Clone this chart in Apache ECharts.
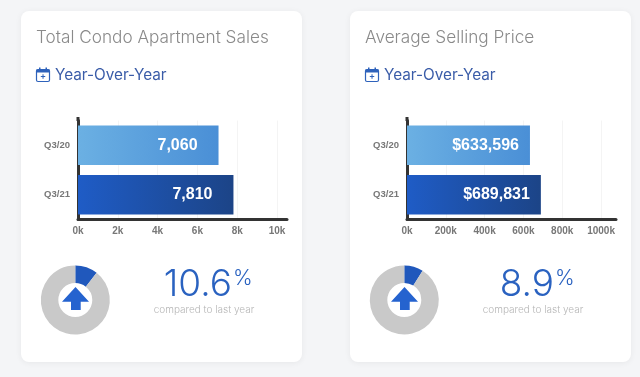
<!DOCTYPE html>
<html>
<head>
<meta charset="utf-8">
<title>Condo sales</title>
<script src="https://cdn.jsdelivr.net/npm/echarts@6/dist/echarts.min.js"></script>
<style>
	html, body { margin: 0; padding: 0; background: #f4f5f7; }
	#main { width: 640px; height: 377px; }
</style>
</head>
<body>
<div id="main"></div>
<script>
var quarters = ['Q3/20', 'Q3/21'];
var salesValues = [7060, 7810];
var priceValues = [633596, 689831];
var salesTicks = [0, 2000, 4000, 6000, 8000, 10000];
var priceTicks = [0, 200000, 400000, 600000, 800000, 1000000];
var changeValues = [10.6, 8.9];
var titles = ['Total Condo Apartment Sales', 'Average Selling Price'];

var uiFont = 'Inter, "Noto Sans", sans-serif';
var chartFont = '"Liberation Sans", Arial, sans-serif';
var blue = '#2a62c0';

function barColor(i) {
	var stops = i == 0 ? ['#6bb0e3', '#4a8fd6'] : ['#1f5cc6', '#1c4487'];
	return new echarts.graphic.LinearGradient(0, 0, 1, 0, [
		{ offset: 0, color: stops[0] },
		{ offset: 1, color: stops[1] }
	]);
}

function barData(values) {
	return values.map(function(v, i) {
		return { value: v, itemStyle: { color: barColor(i) } };
	});
}

function xAxisFor(index, max, ticks) {
	return {
		gridIndex: index,
		type: 'value',
		min: 0,
		max: max,
		interval: ticks[1],
		axisLine: { show: true, lineStyle: { color: '#333', width: 3 } },
		axisTick: { show: false },
		axisLabel: {
			color: '#777',
			fontFamily: chartFont,
			fontSize: 10,
			fontWeight: 'bold',
			margin: 7,
			showMaxLabel: false,
			showMinLabel: true,
			formatter: function(v) { return (v / 1000) + 'k'; }
		},
		splitLine: { show: true, showMaxLine: false, lineStyle: { color: '#f4f4f4', width: 1 } }
	};
}

function yAxisFor(index) {
	return {
		gridIndex: index,
		type: 'category',
		inverse: true,
		data: quarters,
		axisLine: { show: true, lineStyle: { color: '#333', width: 3 } },
		axisTick: { show: false },
		axisLabel: { color: '#777', fontFamily: chartFont, fontSize: 9.5, fontWeight: 'bold', margin: 8 }
	};
}

function barSeries(index, values, prefix, distance) {
	return {
		type: 'bar',
		xAxisIndex: index,
		yAxisIndex: index,
		barCategoryGap: '20%',
		silent: true,
		data: barData(values),
		label: {
			show: true,
			position: 'insideRight',
			distance: distance,
			color: '#fff',
			fontFamily: chartFont,
			fontWeight: 'bold',
			fontSize: 16,
			formatter: function(p) { return prefix + p.value.toLocaleString('en-US'); }
		}
	};
}

function pieSeries(cx, value) {
	return {
		type: 'pie',
		center: [cx, 300],
		radius: [17, 34.5],
		startAngle: 90,
		clockwise: true,
		silent: true,
		label: { show: false },
		labelLine: { show: false },
		data: [
			{ value: value, itemStyle: { color: '#2058bc' } },
			{ value: 100 - value, itemStyle: { color: '#c9c9c9' } }
		]
	};
}

// card, heading, calendar icon, arrow and percent text for one panel
function panel(x, title, change, changeX) {
	return [
		{
			type: 'rect', z: -10,
			shape: { x: x, y: 11, width: 281, height: 351, r: 8 },
			style: { fill: '#fff', shadowBlur: 6, shadowColor: 'rgba(0,0,0,0.06)', shadowOffsetY: 1 }
		},
		{
			type: 'text', x: x + 15, y: 38,
			style: { text: title, font: '300 17.2px ' + uiFont, fill: '#8a8a8a', verticalAlign: 'middle' }
		},
		{
			type: 'rect',
			shape: { x: x + 15.5, y: 69.5, width: 13, height: 12, r: 1.5 },
			style: { fill: 'none', stroke: '#2e62bb', lineWidth: 1.2 }
		},
		{
			type: 'rect',
			shape: { x: x + 15.5, y: 69.5, width: 13, height: 3 },
			style: { fill: '#2e62bb' }
		},
		{ type: 'rect', shape: { x: x + 18, y: 67.5, width: 1.5, height: 3 }, style: { fill: '#2e62bb' } },
		{ type: 'rect', shape: { x: x + 24.5, y: 67.5, width: 1.5, height: 3 }, style: { fill: '#2e62bb' } },
		{
			type: 'text', x: x + 22, y: 76.5,
			style: { text: '+', font: '600 9px ' + uiFont, fill: '#2e62bb', align: 'center', verticalAlign: 'middle' }
		},
		{
			type: 'text', x: x + 34, y: 75.5,
			style: { text: 'Year-Over-Year', font: '400 15.3px ' + uiFont, fill: '#3a5ca8', verticalAlign: 'middle' }
		},
		// top of the y axis line runs a little past the grid
		{
			type: 'rect', z: 10,
			shape: { x: x + 55.5, y: 117, width: 3, height: 4 },
			style: { fill: '#333' }
		},
		{
			type: 'polygon',
			shape: { points: [[x + 54.5, 287], [x + 68, 301.7], [x + 59.7, 301.7], [x + 59.7, 310], [x + 50, 310], [x + 50, 301.7], [x + 41, 301.7]] },
			style: { fill: '#2563cf' }
		},
		{
			type: 'text', x: changeX, y: 285,
			style: { text: change, font: '300 37px ' + uiFont, fill: blue, align: 'right', verticalAlign: 'middle' }
		},
		{
			type: 'text', x: changeX + 1, y: 279,
			style: { text: '%', font: '300 21px ' + uiFont, fill: blue, verticalAlign: 'middle' }
		},
		{
			type: 'text', x: x + 183, y: 310,
			style: { text: 'compared to last year', font: '300 10px ' + uiFont, fill: '#b5b5b5', align: 'center', verticalAlign: 'middle' }
		}
	];
}

var myChart = echarts.init(document.getElementById('main'), null, { renderer: 'canvas' });
var option = {
	backgroundColor: '#f4f5f7',
	animation: false,
	grid: [
		{ left: 78, top: 120.5, width: 209, height: 99 },
		{ left: 407, top: 120.5, width: 209, height: 99 }
	],
	xAxis: [
		xAxisFor(0, 10500, salesTicks),
		xAxisFor(1, 1077000, priceTicks)
	],
	yAxis: [yAxisFor(0), yAxisFor(1)],
	series: [
		barSeries(0, salesValues, '', 21),
		barSeries(1, priceValues, '$', 11),
		pieSeries(75.3, changeValues[0]),
		pieSeries(404.3, changeValues[1])
	],
	graphic: { elements: panel(21, titles[0], changeValues[0].toFixed(1), 232).concat(panel(350, titles[1], changeValues[1].toFixed(1), 554)) }
};
myChart.setOption(option);
</script>
</body>
</html>
